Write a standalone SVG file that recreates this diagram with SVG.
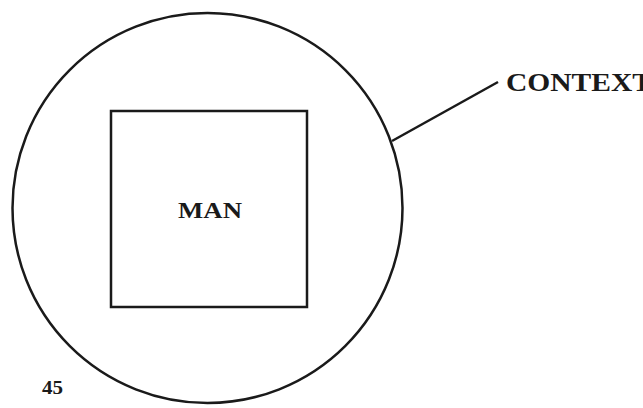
<svg xmlns="http://www.w3.org/2000/svg" width="643" height="408" viewBox="0 0 643 408">
<style>
.ln{fill:none;stroke:#1a1a1a;stroke-width:2.5}
.t{font-family:"Liberation Serif","Times New Roman",serif;font-weight:bold;fill:#1a1a1a}
</style>
<rect width="643" height="408" fill="#fff"/>
<g id="context">
<circle class="ln" cx="207.5" cy="208" r="195"/>
<text class="t" x="506" y="91" font-size="25" textLength="146" lengthAdjust="spacingAndGlyphs">CONTEXT</text>
</g>
<g id="man">
<rect class="ln" x="111" y="111" width="196" height="196"/>
<text class="t" x="178" y="218" font-size="23" textLength="64" lengthAdjust="spacingAndGlyphs">MAN</text>
</g>
<g id="connectors">
<line class="ln" x1="392" y1="141" x2="498" y2="82"/>
</g>
<text class="t" x="42" y="394" font-size="19" textLength="21" lengthAdjust="spacingAndGlyphs">45</text>
</svg>
